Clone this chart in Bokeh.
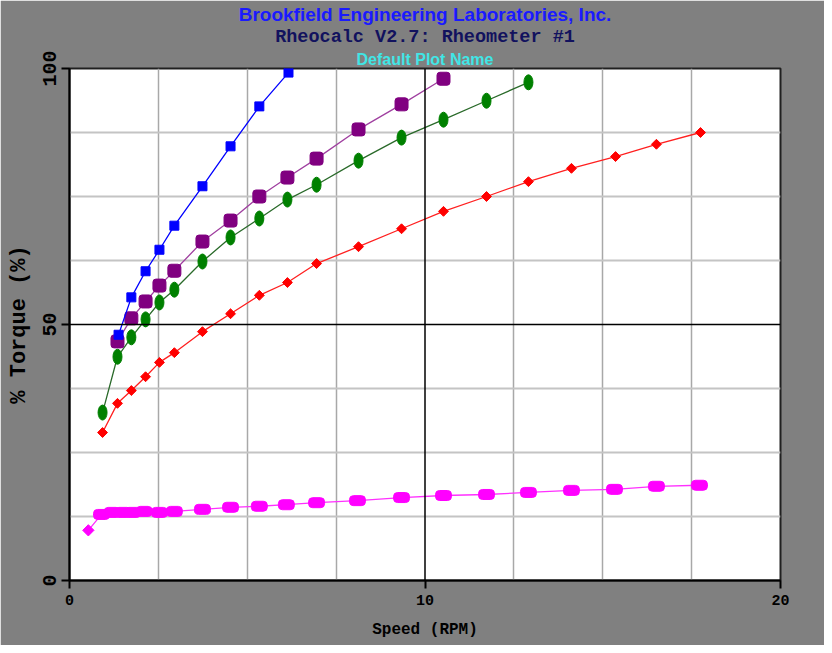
import math
from bokeh.plotting import figure
from bokeh.models import FixedTicker, Span, Title
from bokeh.embed import file_html
from bokeh.resources import INLINE

# ---- data ----
blue_speed = [1.38, 1.74, 2.14, 2.53, 2.95, 3.74, 4.53, 5.34, 6.16]
blue_torque = [48.0, 55.3, 60.4, 64.6, 69.3, 77.0, 84.8, 92.6, 99.2]

purple_speed = [1.35, 1.74, 2.14, 2.53, 2.95, 3.74, 4.53, 5.34, 6.13, 6.95, 8.13, 9.34, 10.52]
purple_torque = [46.7, 51.2, 54.5, 57.6, 60.5, 66.2, 70.3, 75.0, 78.7, 82.4, 88.1, 93.0, 98.0]

green_speed = [0.93, 1.35, 1.74, 2.14, 2.53, 2.95, 3.74, 4.53, 5.34, 6.13, 6.95, 8.13, 9.34, 10.52, 11.73, 12.91]
green_torque = [32.8, 43.7, 47.5, 51.0, 54.3, 56.8, 62.3, 67.0, 70.7, 74.4, 77.3, 82.0, 86.5, 90.0, 93.7, 97.3]

red_speed = [0.93, 1.35, 1.74, 2.14, 2.53, 2.95, 3.74, 4.53, 5.34, 6.13, 6.95, 8.13, 9.34, 10.52, 11.73, 12.91, 14.12, 15.36, 16.51, 17.75]
red_torque = [28.9, 34.6, 37.1, 39.8, 42.6, 44.5, 48.6, 52.1, 55.7, 58.2, 61.9, 65.2, 68.7, 72.1, 75.0, 77.9, 80.5, 82.8, 85.2, 87.5]

magenta_speed = [0.53, 0.9, 1.2, 1.5, 1.78, 2.1, 2.53, 2.95, 3.74, 4.53, 5.34, 6.1, 6.95, 8.1, 9.34, 10.52, 11.73, 12.91, 14.12, 15.33, 16.51, 17.72]
magenta_torque = [9.8, 12.9, 13.3, 13.3, 13.3, 13.5, 13.3, 13.5, 13.9, 14.3, 14.5, 14.8, 15.2, 15.6, 16.2, 16.6, 16.8, 17.2, 17.6, 17.8, 18.4, 18.6]

x_ticks = [0, 10, 20]
y_ticks = [0, 50, 100]
x_grid = [2.5, 5, 7.5, 12.5, 15, 17.5]
y_grid = [12.5, 25, 37.5, 62.5, 75, 87.5]

p = figure(width=824, height=645, x_range=(0, 20), y_range=(0, 100),
           output_backend="svg", toolbar_location=None,
           min_border_left=69, min_border_right=44, min_border_top=68, min_border_bottom=65,
           border_fill_color="#808080", background_fill_color="white",
           outline_line_color="#202020", outline_line_width=2)

# titles (first added sits closest to the frame)
for txt, col, font, size, so in [
    ("Default Plot Name", "#40e6e6", "Liberation Sans", "16px", 2),
    ("Rheocalc V2.7: Rheometer #1", "#12125e", "Liberation Mono", "18.5px", 0),
    ("Brookfield Engineering Laboratories, Inc.", "#1a1aff", "Liberation Sans", "19px", 0),
]:
    p.add_layout(Title(text=txt, align="center", text_color=col, text_font=font,
                       text_font_size=size, text_font_style="bold", standoff=so), "above")

# axes
p.xaxis.ticker = FixedTicker(ticks=x_ticks)
p.yaxis.ticker = FixedTicker(ticks=y_ticks)
p.xaxis.axis_label = "Speed (RPM)"
p.yaxis.axis_label = "% Torque (%)"
for ax in (p.xaxis, p.yaxis):
    ax.axis_line_color = "black"
    ax.axis_line_width = 2
    ax.major_tick_line_color = "black"
    ax.major_tick_line_width = 2
    ax.major_tick_out = 8
    ax.major_tick_in = 0
    ax.minor_tick_line_color = None
    ax.major_label_text_font = "Liberation Mono"
    ax.major_label_text_font_style = "bold"
    ax.major_label_text_color = "black"
    ax.axis_label_text_font = "Liberation Mono"
    ax.axis_label_text_font_style = "bold"
    ax.axis_label_text_color = "black"
p.xaxis.major_label_text_font_size = "15px"
p.xaxis.axis_label_text_font_size = "16px"
p.yaxis.major_label_text_font_size = "20px"
p.yaxis.axis_label_text_font_size = "22px"
p.yaxis.major_label_orientation = "vertical"
p.yaxis.major_label_standoff = 6
p.yaxis.axis_label_standoff = 8
p.xaxis.major_label_standoff = 6
p.xaxis.axis_label_standoff = 13

# grids
p.xgrid.ticker = FixedTicker(ticks=x_grid)
p.ygrid.ticker = FixedTicker(ticks=y_grid)
p.xgrid.grid_line_color = "#a8a8a8"
p.xgrid.grid_line_width = 1.5
p.ygrid.grid_line_color = "#c4c4c4"
p.ygrid.grid_line_width = 2
p.add_layout(Span(location=10, dimension="height", line_color="black", line_width=1.5))
p.add_layout(Span(location=50, dimension="width", line_color="black", line_width=1.5))

# series
p.line(red_speed, red_torque, line_color="#ff2020", line_width=1.3)
p.scatter(red_speed, red_torque, marker="square", angle=math.pi / 4, size=7,
          fill_color="#ff0000", line_color="#ff0000")

p.line(green_speed, green_torque, line_color="#2a6a2a", line_width=1.3)
p.ellipse(green_speed, green_torque, width=9, height=15, width_units="screen", height_units="screen",
          fill_color="#008000", line_color="#008000")

p.line(purple_speed, purple_torque, line_color="#a040a0", line_width=1.3)
p.rect(purple_speed, purple_torque, width=13, height=13, width_units="screen", height_units="screen",
       fill_color="#800080", line_color="#800080", border_radius=3)

p.line(blue_speed, blue_torque, line_color="#0000ff", line_width=1.3)
p.scatter(blue_speed, blue_torque, marker="square", size=9, fill_color="#0000ff", line_color="#0000ff")

p.line(magenta_speed, magenta_torque, line_color="#ff30ff", line_width=1.3)
p.scatter(magenta_speed[:1], magenta_torque[:1], marker="square", angle=math.pi / 4, size=8,
          fill_color="#ff00ff", line_color="#ff00ff")
p.rect(magenta_speed[1:], magenta_torque[1:], width=16, height=10, width_units="screen", height_units="screen",
       fill_color="#ff00ff", line_color="#ff00ff", border_radius=4)

open("out.html", "w").write(file_html(p, INLINE))
